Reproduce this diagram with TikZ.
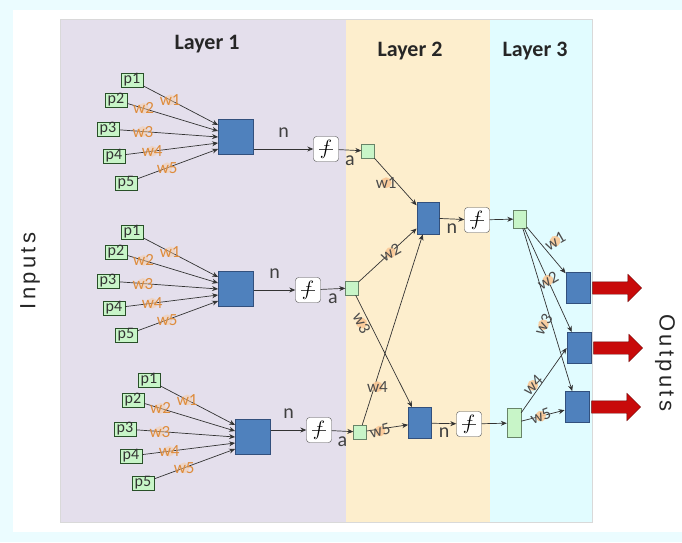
\documentclass[tikz,border=0pt]{standalone}
\usepackage{fontspec}
\setmainfont{Carlito}
\newfontfamily\sidefont{Liberation Sans}[LetterSpace=15]
\usepackage{tikz}
\usetikzlibrary{positioning,arrows.meta,calc,shapes.arrows}
\definecolor{nnBlue}{RGB}{79,129,189}
\definecolor{nnEdge}{RGB}{50,80,125}
\definecolor{nnGreen}{RGB}{200,245,200}
\definecolor{nnDkGreen}{RGB}{40,80,40}
\definecolor{nnOrange}{RGB}{222,140,60}
\definecolor{nnPeach}{RGB}{250,200,150}
\definecolor{nnLilac}{RGB}{228,223,236}
\definecolor{nnSand}{RGB}{253,238,205}
\definecolor{nnIce}{RGB}{225,252,255}
\definecolor{nnFrame}{RGB}{235,252,255}
\definecolor{nnRed}{RGB}{200,10,10}

\tikzset{
  title/.style={font=\fontsize{22}{24}\selectfont\bfseries, text=black!85},
  side/.style={font=\sidefont\fontsize{22}{24}\selectfont, text=black!85},
  neuron/.style={draw=nnEdge, fill=nnBlue, line width=0.8pt, minimum width=35pt, minimum height=35pt, inner sep=0pt},
  inbox/.style={draw=nnDkGreen, fill=nnGreen, text=black!80, font=\fontsize{16}{16}\selectfont, inner sep=0.5pt, minimum width=22pt, minimum height=13pt},
  sumbox/.style={draw=nnDkGreen!70, fill=nnGreen, inner sep=0pt, minimum width=13pt, minimum height=14pt},
  actbox/.style={draw=gray!60!black, fill=white, rounded corners=3pt, minimum size=25pt, inner sep=0pt, font=\fontsize{22}{22}\selectfont,
    path picture={\draw[line width=0.9pt] ([xshift=-7pt]path picture bounding box.center) -- ([xshift=7pt]path picture bounding box.center);}},
  nlab/.style={font=\fontsize{20}{20}\selectfont, text=black!75, inner sep=0pt},
  wfirst/.style={circle, fill=nnPeach, fill opacity=0.45, text opacity=1, text=nnOrange, font=\fontsize{17}{17}\selectfont, inner sep=-5pt},
  wnext/.style={wfirst, fill opacity=0.9, text=black!70},
  conn/.style={draw=black!80, line width=0.7pt, -{Stealth[length=6pt, width=5pt]}},
  outarrow/.style={single arrow, draw=nnRed!55!black, fill=nnRed, inner sep=6pt, minimum width=0pt, minimum height=49pt, single arrow head extend=7.5pt}
}

\begin{document}
\begin{tikzpicture}[x=1pt, y=-1pt]
  % Frame and layer panels
  \useasboundingbox (0,0) rectangle (682,542);
  \fill[nnFrame] (0,0) rectangle (682,542);
  \fill[white] (13,10) rectangle (682,532);
  \fill[nnLilac] (60,19) rectangle (346,522);
  \fill[nnSand] (346,19) rectangle (490,522);
  \fill[nnIce] (490,19) rectangle (592,522);
  \draw[gray!30] (60,19) rectangle (592,522);

  % Titles
  \node[title] (lay1) at (207,44) {Layer 1};
  \node[title] (lay2) at (410,51) {Layer 2};
  \node[title] (lay3) at (535,51) {Layer 3};
  \node[side, rotate=90] (inputs) at (30,271) {Inputs};
  \node[side, rotate=-90] (outputs) at (665,363) {Outputs};

  % Layer 1: three neurons, five weighted inputs each
  \foreach \row/\x/\y/\fx/\fy/\gx/\gy in {1/236/137/326/149/368/151, 2/236/289/308/290/352/288, 3/253/437/319/430/360/432} {
    \node[neuron] (n\row) at (\x,\y) {};
    \foreach \idx/\dx/\dy/\ty/\ps in {1/-104/-57/-12/0.36, 2/-120/-37/-6/0.18, 3/-128/-8/0/0.24, 4/-122/19/6/0.29, 5/-110/46/12/0.37} {
      \node[inbox] (p\row\idx) at (\x+\dx,\y+\dy) {p\idx};
      \draw[conn] (p\row\idx) -- ($(n\row.west)+(0,\ty)$) node[wfirst, pos=\ps] (w\row\idx) {w\idx};
    }
    \node[actbox] (f\row) at (\fx,\fy) {$f$};
    \node[sumbox] (a\row) at (\gx,\gy) {};
    \draw[conn] (n\row.east |- f\row.west) -- (f\row.west) node[nlab, midway, above=11pt] (nl\row) {n};
    \draw[conn] (f\row) -- (a\row) node[nlab, midway, below=5pt] (al\row) {a};
  }

  % Layer 2
  \node[neuron, minimum width=22pt, minimum height=32pt] (h1) at (428,218) {};
  \node[neuron, minimum width=23pt, minimum height=31pt] (h2) at (420,423) {};
  \node[actbox] (F1) at (477,220) {$f$};
  \node[actbox] (F2) at (469,424) {$f$};
  \node[sumbox, minimum height=18pt] (b1) at (520,219) {};
  \node[sumbox, minimum width=14pt, minimum height=29pt] (b2) at (514,423) {};
  \foreach \k in {1,2} {
    \draw[conn] (h\k) -- (F\k) node[nlab, midway, below=4pt] (hn\k) {n};
    \draw[conn] (F\k) -- (b\k);
  }
  \foreach \from/\to/\idx/\ps/\rot/\sx/\sy in {a1/h1/1/0.35/0/-3/-8, a2/h1/2/0.55/30/0/0, a2/h2/3/0.25/-62/-8/0, a3/h1/4/0.2/0/3/0, a3/h2/5/0.32/15/0/-2}
    \draw[conn] (\from) -- (\to) node[wnext, pos=\ps, xshift=\sx pt, yshift=\sy pt, rotate=\rot] (v\idx) {w\idx};

  % Layer 3 and outputs
  \foreach \k/\x/\y in {1/578/288, 2/579/348, 3/577/407} {
    \node[neuron, minimum width=24pt, minimum height=31pt] (o\k) at (\x,\y) {};
    \node[outarrow, right=2pt of o\k] (r\k) {};
  }
  \foreach \from/\to/\idx/\ps/\rot/\sx/\sy in {b1/o1/1/0.5/30/9/9, b1/o2/2/0.5/30/0/0, b1/o3/3/0.58/60/-8/-2, b2/o2.west/4/0.3/45/-2/8, b2/o3/5/0.45/20/0/0}
    \draw[conn] (\from) -- (\to) node[wnext, pos=\ps, xshift=\sx pt, yshift=\sy pt, rotate=\rot] (u\idx) {w\idx};
\end{tikzpicture}
\end{document}
